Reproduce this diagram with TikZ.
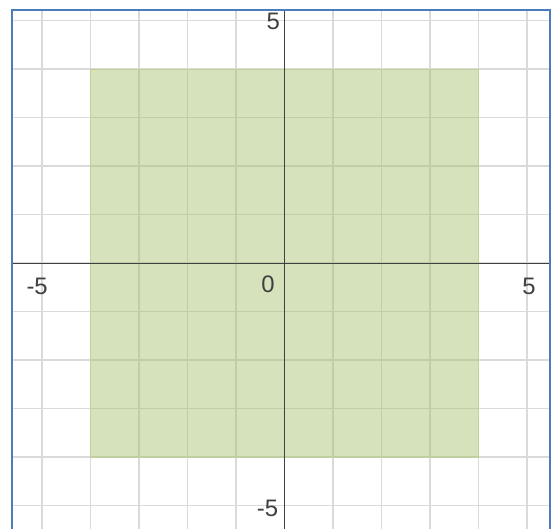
\documentclass[tikz,border=0pt]{standalone}
\usepackage{fontspec}
\setmainfont{Liberation Sans}
\usepackage{tikz}
\definecolor{framebl}{RGB}{74,126,187}
\definecolor{regiongr}{RGB}{164,191,106}
\definecolor{gridgr}{RGB}{218,218,218}
\newcommand{\xlo}[0] {-5.62}
\newcommand{\xhi}[0] {5.47}
\newcommand{\ylo}[0] {-5.7}
\newcommand{\yhi}[0] {5.22}
\tikzset{
  gridline/.style={draw=gridgr, line width=0.8pt},
  axisline/.style={draw=black!75, line width=0.6pt},
  ticklbl/.style={inner sep=0pt, text=black!75, font=\fontsize{14}{14}\selectfont},
}

\begin{document}
\begin{tikzpicture}
        \useasboundingbox (-5.866,-5.464) rectangle (5.639,5.423);
        \fill[white] (-5.866,-5.464) rectangle (5.639,5.423);

        %grid
        \begin{scope}
        \clip (\xlo,\ylo) rectangle (\xhi,\yhi);
        \foreach \k in {-6,...,6} {
            \draw[gridline] (\k,\ylo) -- (\k,\yhi);
            \draw[gridline] (\xlo,\k) -- (\xhi,\k);
        }
        \end{scope}

        %shaded square
        \fill[regiongr, fill opacity=0.45] (-4,-4) rectangle (4,4);
        \draw[regiongr!70, line width=0.6pt] (-4,-4) rectangle (4,4);

        %axes
        \coordinate (xl) at (\xlo, 0);
        \coordinate (xr) at (\xhi, 0);
        \coordinate (yb) at (0, \ylo);
        \coordinate (yt) at (0, \yhi);
        \path[axisline] (xl) edge (xr);
        \path[axisline] (yb) edge (yt);

        \node[ticklbl] (xm) at (-5.10,-0.49) {-5};
        \node[ticklbl] (xp) at (5.04,-0.49) {5};
        \node[ticklbl] (o) at (-0.34,-0.43) {0};
        \node[ticklbl] (yp) at (-0.23,4.99) {5};
        \node[ticklbl] (ym) at (-0.35,-5.05) {-5};

        %frame
        \draw[framebl, line width=1.2pt] (\xlo,\ylo) -- (\xlo,\yhi) -- (\xhi,\yhi) -- (\xhi,\ylo);
\end{tikzpicture}
\end{document}
